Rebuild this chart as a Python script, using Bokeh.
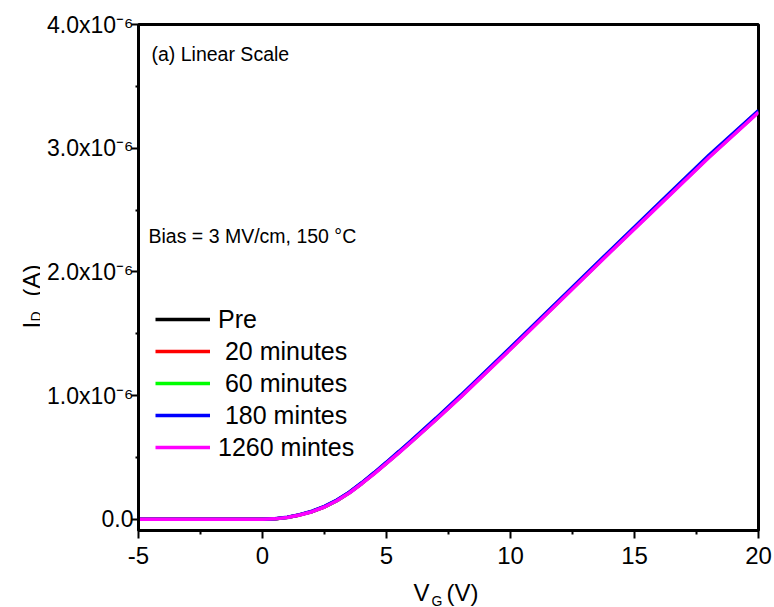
import math
from bokeh.plotting import figure
from bokeh.layouts import row, column
from bokeh.models import (ColumnDataSource, FixedTicker, Label,
                          Legend, LegendItem, Range1d)
from bokeh.embed import file_html
from bokeh.resources import INLINE

# ---------------- data (I_D in units of 1e-6 A) ----------------
vg = [-5, -4, -3, -2, -1, 0, 0.5, 1, 1.5, 2, 2.5, 3, 3.5, 4, 4.5, 5, 5.5, 6,
      7, 8, 10, 12, 14, 16, 18, 20]
id_pre = [0, 0, 0, 0, 0, 0, 0.004, 0.016, 0.036, 0.064, 0.102, 0.153, 0.217,
          0.292, 0.373, 0.457, 0.544, 0.631, 0.812, 0.997, 1.383, 1.773,
          2.163, 2.550, 2.935, 3.300]
id_20 = [0, 0, 0, 0, 0, 0, 0.004, 0.016, 0.036, 0.063, 0.101, 0.152, 0.216,
         0.291, 0.372, 0.456, 0.543, 0.630, 0.810, 0.995, 1.381, 1.771,
         2.161, 2.547, 2.932, 3.297]
id_60 = [0, 0, 0, 0, 0, 0, 0.004, 0.015, 0.036, 0.063, 0.101, 0.151, 0.215,
         0.290, 0.371, 0.455, 0.541, 0.628, 0.808, 0.993, 1.379, 1.769,
         2.159, 2.545, 2.930, 3.295]
id_180 = [0, 0, 0, 0, 0, 0, 0.005, 0.017, 0.038, 0.066, 0.105, 0.156, 0.220,
          0.296, 0.377, 0.462, 0.549, 0.637, 0.818, 1.004, 1.390, 1.780,
          2.170, 2.557, 2.943, 3.305]
id_1260 = [0, 0, 0, 0, 0, 0, 0.004, 0.015, 0.035, 0.062, 0.100, 0.150, 0.213,
           0.288, 0.368, 0.452, 0.538, 0.625, 0.805, 0.990, 1.375, 1.765,
           2.155, 2.540, 2.925, 3.290]

series_labels = ["Pre", "\u00a020 minutes", "\u00a060 minutes",
                 "\u00a0180 mintes", "1260 mintes"]
series_colors = ["#000000", "#ff0000", "#00ff00", "#0000ff", "#ff00ff"]
series_values = [id_pre, id_20, id_60, id_180, id_1260]

x_major = [-5, 0, 5, 10, 15, 20]
x_minor = [-2.5, 2.5, 7.5, 12.5, 17.5]
x_tick_text = ["-5", "0", "5", "10", "15", "20"]
y_major = [0, 1, 2, 3, 4]
y_minor = [0.5, 1.5, 2.5, 3.5]
y_tick_text = ["0.0", "1.0x10\u207b\u2076", "2.0x10\u207b\u2076",
               "3.0x10\u207b\u2076", "4.0x10\u207b\u2076"]

X_START, X_END = -5, 20
Y_START, Y_END = -0.09, 4.0

FONT = "Liberation Sans"

LEFT_W = 40
MAIN_W = 774 - LEFT_W
MAIN_H = 574
BOTTOM_H = 607 - MAIN_H

# ---------------- main plot ----------------
p = figure(width=MAIN_W, height=MAIN_H, output_backend="svg",
           toolbar_location=None,
           x_range=Range1d(X_START, X_END), y_range=Range1d(Y_START, Y_END),
           min_border_left=138 - LEFT_W, min_border_right=16,
           min_border_top=24, min_border_bottom=MAIN_H - 530)
p.grid.visible = False
p.outline_line_color = "black"
p.outline_line_width = 3

renderers = []
for vals, col in zip(series_values, series_colors):
    src = ColumnDataSource(dict(x=vg, y=vals))
    r = p.line("x", "y", source=src, line_color=col, line_width=3.5)
    renderers.append(r)

for ax in (p.xaxis[0], p.yaxis[0]):
    ax.axis_line_width = 3
    ax.major_tick_line_width = 2
    ax.minor_tick_line_width = 2
    ax.major_tick_in = 0
    ax.minor_tick_in = 0
    ax.major_label_text_font = FONT
    ax.major_label_text_color = "black"

p.xaxis.ticker = FixedTicker(ticks=x_major, minor_ticks=x_minor)
p.xaxis.major_label_overrides = dict(zip(x_major, x_tick_text))
p.xaxis.major_tick_out = 8
p.xaxis.minor_tick_out = 4
p.xaxis.major_label_text_font_size = "24px"
p.xaxis.major_label_standoff = 8

p.yaxis.ticker = FixedTicker(ticks=y_major, minor_ticks=y_minor)
p.yaxis.major_label_overrides = dict(zip(y_major, y_tick_text))
p.yaxis.major_tick_out = 7
p.yaxis.minor_tick_out = 3
p.yaxis.major_label_text_font_size = "23px"
p.yaxis.major_label_standoff = -2


def clab(fig, text, x, y, size, angle=0.0):
    fig.add_layout(Label(x=x, y=y, x_units="canvas", y_units="canvas",
                         text=text, text_font=FONT, text_font_size=size,
                         text_color="black", text_align="left",
                         text_baseline="alphabetic", angle=angle))


clab(p, "(a) Linear Scale", 151 - LEFT_W, 53, "19.5px")
clab(p, "Bias = 3 MV/cm, 150 \u00b0C", 148 - LEFT_W, 235, "19.5px")

legend = Legend(items=[LegendItem(label=l, renderers=[r])
                       for l, r in zip(series_labels, renderers)],
                location=(17, 67), border_line_alpha=0,
                background_fill_alpha=0, label_text_font=FONT,
                label_text_font_size="25px", label_text_color="black",
                glyph_width=55, glyph_height=32, label_height=32,
                spacing=0, padding=0, margin=0, label_standoff=8)
p.add_layout(legend)


# ---------------- axis-title panels ----------------
def panel(w, h):
    f = figure(width=w, height=h, output_backend="svg", toolbar_location=None,
               x_axis_type=None, y_axis_type=None, min_border=0,
               x_range=Range1d(0, 1), y_range=Range1d(0, 1))
    f.outline_line_color = None
    f.grid.visible = False
    return f


ytitle = panel(LEFT_W, 607)
clab(ytitle, "I", 31, 328, "24px", math.pi / 2)
clab(ytitle, "D", 35, 321, "14px", math.pi / 2)
clab(ytitle, "(A)", 31, 296, "24px", math.pi / 2)

xtitle = panel(MAIN_W, BOTTOM_H)
clab(xtitle, "V", 413 - LEFT_W, 592 - MAIN_H, "24px")
clab(xtitle, "G", 431 - LEFT_W, 600 - MAIN_H, "14px")
clab(xtitle, "(V)", 446 - LEFT_W, 592 - MAIN_H, "24px")

layout = row(ytitle, column(p, xtitle, spacing=0), spacing=0)

open("out.html", "w").write(file_html(layout, INLINE))
